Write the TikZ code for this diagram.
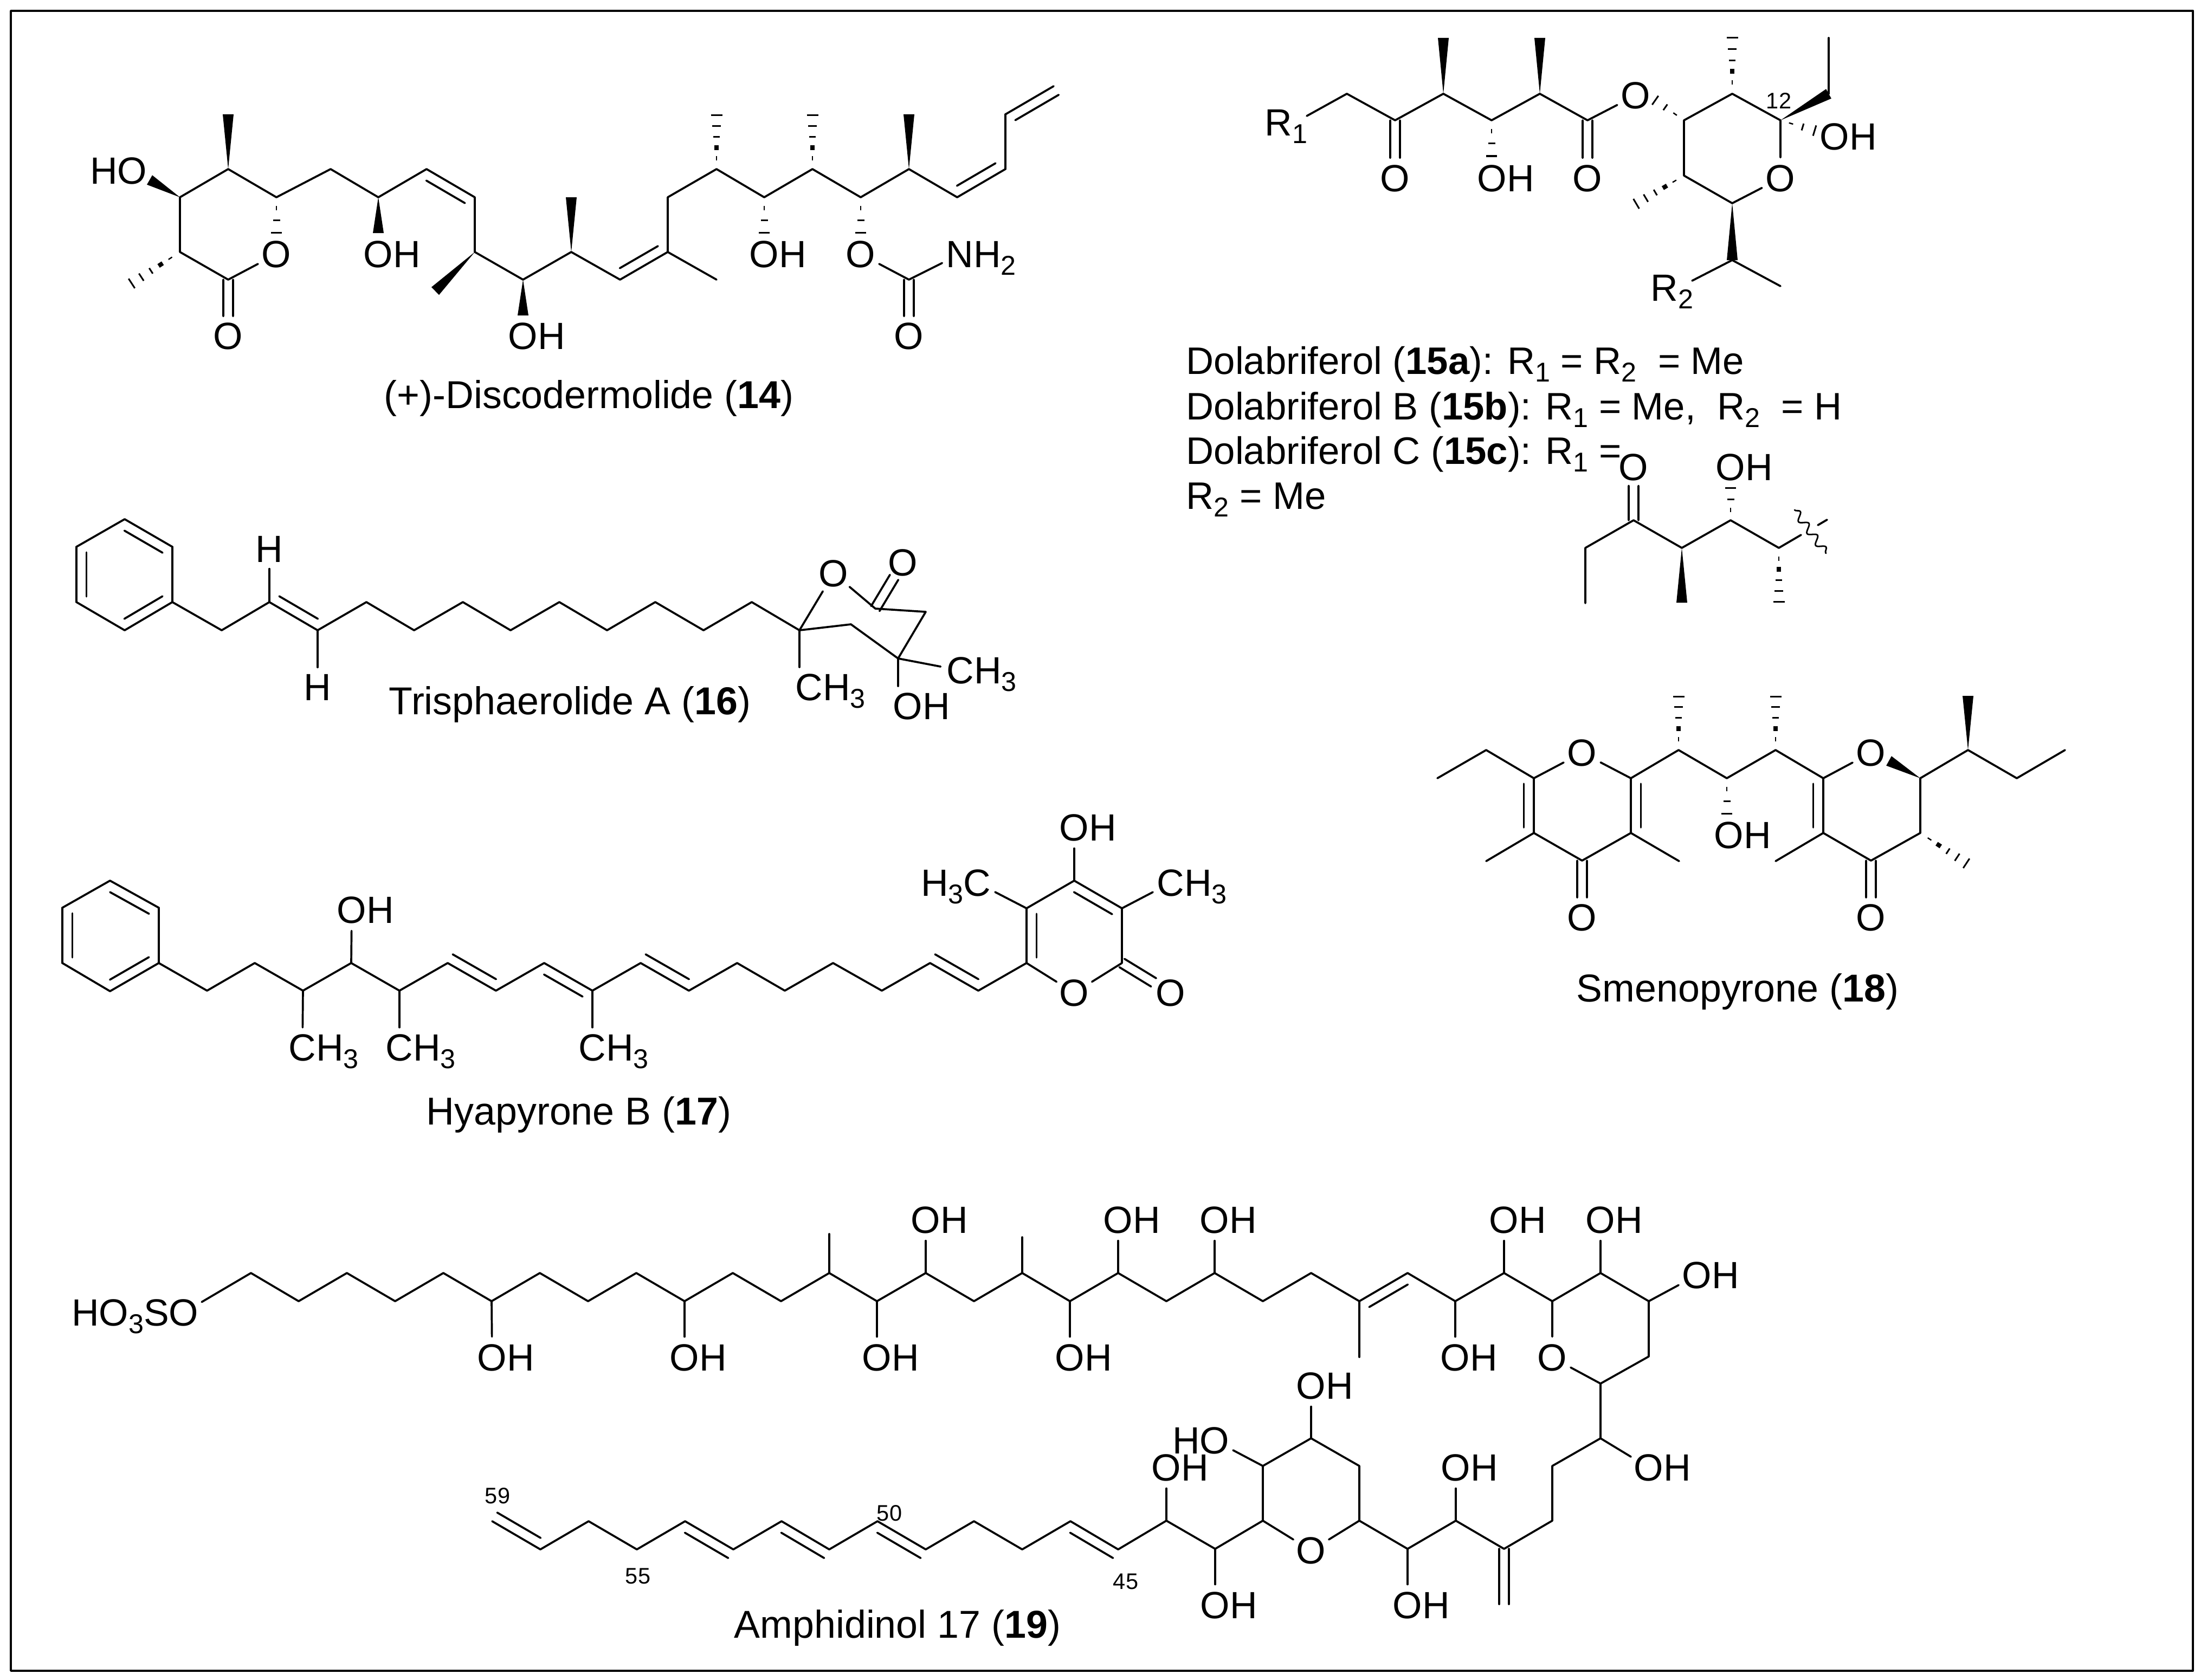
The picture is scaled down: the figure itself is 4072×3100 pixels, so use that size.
\documentclass[tikz,border=0pt]{standalone}
\usepackage{fontspec}
\setmainfont{Liberation Sans}
\usepackage{tikz}
\usetikzlibrary{calc,decorations.pathmorphing}
\newcommand{\chemfont}{\fontsize{19.9}{24}\selectfont}
\newcommand{\chemsub}[1]{\smash{\raisebox{-0.21em}{\fontsize{14.3}{15}\selectfont #1}}}
\tikzset{atom/.style={circle,inner sep=0pt,font=\chemfont}}
\tikzset{caption/.style={anchor=base west,inner sep=0pt,font=\fontsize{20.4}{24}\selectfont}}
\tikzset{rtext/.style={anchor=base west,inner sep=0pt,font=\fontsize{20.1}{24}\selectfont}}
\tikzset{numlabel/.style={inner sep=0pt,font=\fontsize{11.8}{14}\selectfont}}
\tikzset{wavy/.style={line width=0.8pt,decorate,decoration={snake,amplitude=.07cm,segment length=.27cm}}}
\newcommand{\wedgebond}[2]{\fill (#1) -- ($(#2)!.1cm!90:(#1)$) -- ($(#2)!.1cm!-90:(#1)$) -- cycle;}
\newcommand{\hashbond}[2]{\foreach \hpos/\hwid/\hthk in {.2/.012/.08,.4/.04/.09,.6/.06/.03,.8/.08/.03,1/.105/.03}{\draw[line width=\hthk cm,line cap=butt] ($(#1)!\hpos!(#2) + (#1)!\hwid cm!90:(#2) - (#1)$) -- ($(#1)!\hpos!(#2) + (#1)!\hwid cm!-90:(#2) - (#1)$);}}
\newcommand{\hashshort}[2]{\foreach \hpos/\hwid/\hthk in {.31/.0125/.08,.65/.065/.03,1/.1/.03}{\draw[line width=\hthk cm,line cap=butt] ($(#1)!\hpos!(#2) + (#1)!\hwid cm!90:(#2) - (#1)$) -- ($(#1)!\hpos!(#2) + (#1)!\hwid cm!-90:(#2) - (#1)$);}}
\newcommand{\innerbond}[5]{\draw ($(#1)!#4!(#2) + (#1)!.185cm!#3:(#2) - (#1)$) -- ($(#1)!#5!(#2) + (#1)!.185cm!#3:(#2) - (#1)$);}
\newcommand{\dblbond}[3]{\draw (#1) -- (#2); \innerbond{#1}{#2}{#3}{.1}{.9}}
\newcommand{\dblcenter}[3]{\draw ($(#1)!.09cm!90:(#2)$) -- ($(#1)!#3!(#2) + (#1)!.09cm!90:(#2) - (#1)$); \draw ($(#1)!.09cm!-90:(#2)$) -- ($(#1)!#3!(#2) + (#1)!.09cm!-90:(#2) - (#1)$);}

\begin{document}
\begin{tikzpicture}
[x=.01cm, y=-.01cm, line width=1.05pt, line cap=round, line join=round]
\useasboundingbox (0,0) rectangle (4072,3100);
\draw[line cap=butt] (20,20) rectangle (4046,3083);

% discodermolide
\coordinate (d1) at (332,364);
\coordinate (d2) at (421,312);
\coordinate (d3) at (510,364);
\coordinate (d4) at (610,312);
\coordinate (d5) at (698,364);
\coordinate (d6) at (787,312);
\coordinate (d7) at (876,364);
\coordinate (d8) at (876,465);
\coordinate (d9) at (965,516);
\coordinate (d10) at (1054,465);
\coordinate (d11) at (1144,516);
\coordinate (d12) at (1232,465);
\coordinate (d13) at (1232,364);
\coordinate (d14) at (1322,312);
\coordinate (d15) at (1410,364);
\coordinate (d16) at (1499,312);
\coordinate (d17) at (1588,364);
\coordinate (d18) at (1677,312);
\coordinate (d19) at (1766,364);
\coordinate (d20) at (1855,312);
\coordinate (d21) at (1855,211);
\coordinate (d22) at (1944,159);
\coordinate (d23) at (332,465);
\coordinate (d24) at (421,516);
\coordinate (d25) at (1322,516);
\coordinate (d26) at (1677,516);
\coordinate (dm1) at (421,211);
\coordinate (dm2) at (803,537);
\coordinate (dm3) at (1054,364);
\coordinate (dm4) at (1322,213);
\coordinate (dm5) at (1499,213);
\coordinate (dm6) at (1677,211);
\coordinate (dm7) at (243,523);
\coordinate (dw1) at (276,332);
\coordinate (dw2) at (698,430);
\coordinate (dw3) at (965,582);
\coordinate (dh1) at (510,429);
\coordinate (dh2) at (1410,429);
\coordinate (dh3) at (1588,429);
\node (dO1) at (244,315)[atom]{\llap{H}O};
\node (dO2) at (510,469)[atom]{O};
\node (dO3) at (421,620)[atom]{O};
\node (dO4) at (698,469)[atom]{O\rlap{H}};
\node (dO5) at (965,620)[atom]{O\rlap{H}};
\node (dO6) at (1410,469)[atom]{O\rlap{H}};
\node (dO7) at (1588,469)[atom]{O};
\node (dO8) at (1677,620)[atom]{O};
\node (dN) at (1771,469)[atom]{N\rlap{H\chemsub{2}}};
\node (dcap) at (707,753)[caption]{(+)-Discodermolide (\textbf{14})};
\draw (d1) -- (d2) -- (d3) -- (d4) -- (d5) -- (d6);
\dblbond{d6}{d7}{-90}
\draw (d7) -- (d8) -- (d9) -- (d10) -- (d11);
\dblbond{d11}{d12}{90}
\draw (d12) -- (d13) -- (d14) -- (d15) -- (d16) -- (d17) -- (d18) -- (d19);
\dblbond{d19}{d20}{90}
\draw (d20) -- (d21);
\draw (d21) -- (d22);
\innerbond{d21}{d22}{-90}{.1}{1}
\draw (d12) -- (d25);
\draw (d1) -- (d23) -- (d24) -- (dO2);
\dblcenter{d24}{dO3}{.65}
\draw (dO7) -- (d26) -- (dN);
\dblcenter{d26}{dO8}{.65}
\wedgebond{d2}{dm1}
\wedgebond{d1}{dw1}
\wedgebond{d5}{dw2}
\wedgebond{d8}{dm2}
\wedgebond{d9}{dw3}
\wedgebond{d10}{dm3}
\wedgebond{d18}{dm6}
\hashbond{d23}{dm7}
\hashbond{d14}{dm4}
\hashbond{d16}{dm5}
\hashshort{d3}{dh1}
\hashshort{d15}{dh2}
\hashshort{d17}{dh3}

% dolabriferol
\coordinate (f1) at (2485,173);
\coordinate (f2) at (2574,222);
\coordinate (f3) at (2663,173);
\coordinate (f4) at (2752,222);
\coordinate (f5) at (2841,173);
\coordinate (f6) at (2929,222);
\coordinate (f7) at (3107,222);
\coordinate (f8) at (3196,173);
\coordinate (f9) at (3285,222);
\coordinate (f10) at (3374,173);
\coordinate (f11) at (3374,70);
\coordinate (f12) at (3196,375);
\coordinate (f13) at (3107,324);
\coordinate (f14) at (3196,480);
\coordinate (f15) at (3285,528);
\coordinate (fm1) at (2663,70);
\coordinate (fm2) at (2841,70);
\coordinate (fm3) at (3196,70);
\coordinate (fm4) at (3019,376);
\coordinate (fh1) at (2752,288);
\coordinate (fh2) at (3054,185);
\coordinate (fh3) at (3348,241);
\coordinate (fr1) at (2411,214);
\coordinate (fr2) at (3122,518);
\node (fR1) at (2359,226)[atom]{R\rlap{\chemsub{1}}};
\node (fR2) at (3071,531)[atom]{R\rlap{\chemsub{2}}};
\node (fO1) at (2574,329)[atom]{O};
\node (fO2) at (2753,329)[atom]{O\rlap{H}};
\node (fO3) at (2929,329)[atom]{O};
\node (fO4) at (3018,176)[atom]{O};
\node (fO5) at (3285,329)[atom]{O};
\node (fO6) at (3385,252)[atom]{O\rlap{H}};
\node (f12text) at (3282,186)[numlabel]{12};
\draw (fr1) -- (f1) -- (f2) -- (f3) -- (f4) -- (f5) -- (f6) -- (fO4);
\dblcenter{f2}{fO1}{.65}
\dblcenter{f6}{fO3}{.65}
\draw (f9) -- (f8) -- (f7) -- (f13) -- (f12) -- (fO5) -- (f9);
\draw (f10) -- (f11);
\draw (fr2) -- (f14) -- (f15);
\wedgebond{f3}{fm1}
\wedgebond{f5}{fm2}
\wedgebond{f9}{f10}
\wedgebond{f12}{f14}
\hashbond{f8}{fm3}
\hashbond{f13}{fm4}
\hashshort{f4}{fh1}
\hashshort{f7}{fh2}
\hashshort{f9}{fh3}
\node (ftext1) at (2187,690)[rtext]{Dolabriferol (\textbf{15a}): R\chemsub{1} = R\chemsub{2}\ \ = Me};
\node (ftext2) at (2187,774)[rtext]{Dolabriferol B (\textbf{15b}): R\chemsub{1} = Me,\ \ R\chemsub{2}\ \ = H};
\node (ftext3) at (2187,856)[rtext]{Dolabriferol C (\textbf{15c}): R\chemsub{1} =};
\node (ftext4) at (2187,939)[rtext]{R\chemsub{2} = Me};

% side chain of 15c
\coordinate (g1) at (2925,1113);
\coordinate (g2) at (2925,1011);
\coordinate (g3) at (3014,960);
\coordinate (g4) at (3103,1011);
\coordinate (g5) at (3193,960);
\coordinate (g6) at (3282,1011);
\coordinate (g7) at (3323,987);
\coordinate (g8) at (3354,969);
\coordinate (g9) at (3371,959);
\coordinate (gm1) at (3103,1112);
\coordinate (gm2) at (3282,1110);
\coordinate (gh1) at (3193,900);
\coordinate (gw1) at (3311,941);
\coordinate (gw2) at (3369,1021);
\node (gO1) at (3014,862)[atom]{O};
\node (gO2) at (3193,862)[atom]{O\rlap{H}};
\draw (g1) -- (g2) -- (g3) -- (g4) -- (g5) -- (g6) -- (g7);
\draw (g8) -- (g9);
\dblcenter{g3}{gO1}{.65}
\wedgebond{g4}{gm1}
\hashbond{g6}{gm2}
\hashshort{g5}{gh1}
\draw[wavy] (gw1) -- (gw2);

% trisphaerolide
\coordinate (t1) at (230,958);
\coordinate (t2) at (318,1009);
\coordinate (t3) at (318,1111);
\coordinate (t4) at (230,1163);
\coordinate (t5) at (141,1111);
\coordinate (t6) at (141,1009);
\coordinate (t7) at (409,1163);
\coordinate (t8) at (497,1111);
\coordinate (t9) at (586,1163);
\coordinate (t10) at (676,1111);
\coordinate (t11) at (764,1163);
\coordinate (t12) at (854,1111);
\coordinate (t13) at (942,1163);
\coordinate (t14) at (1032,1111);
\coordinate (t15) at (1120,1163);
\coordinate (t16) at (1209,1111);
\coordinate (t17) at (1298,1163);
\coordinate (t18) at (1387,1111);
\coordinate (t19) at (1475,1163);
\coordinate (t20) at (1570,1152);
\coordinate (t21) at (1657,1215);
\coordinate (t22) at (1708,1129);
\coordinate (t23) at (1615,1123);
\coordinate (tb1) at (1475,1231);
\coordinate (tb2) at (1657,1266);
\node (tH1) at (497,1013)[atom]{H};
\node (tH2) at (586,1268)[atom]{H};
\node (tO1) at (1538,1058)[atom]{O};
\node (tO2) at (1666,1038)[atom]{O};
\node (tO3) at (1675,1303)[atom]{O\rlap{H}};
\node (tC1) at (1493,1268)[atom]{C\rlap{H\chemsub{3}}};
\node (tC2) at (1772,1237)[atom]{C\rlap{H\chemsub{3}}};
\node (tcap) at (716,1318)[caption]{Trisphaerolide A (\textbf{16})};
\dblbond{t1}{t2}{-90}
\draw (t2) -- (t3);
\dblbond{t3}{t4}{-90}
\draw (t4) -- (t5);
\dblbond{t5}{t6}{-90}
\draw (t6) -- (t1);
\draw (t3) -- (t7) -- (t8);
\dblbond{t8}{t9}{90}
\draw (t9) -- (t10) -- (t11) -- (t12) -- (t13) -- (t14) -- (t15) -- (t16) -- (t17) -- (t18) -- (t19);
\draw (t8) -- (tH1);
\draw (t9) -- (tH2);
\draw (t19) -- (tb1);
\draw (t19) -- (tO1);
\draw (t19) -- (t20) -- (t21) -- (t22) -- (t23) -- (tO1);
\dblcenter{t23}{tO2}{.68}
\draw (t21) -- (tb2);
\draw (t21) -- (tC2);

% hyapyrone
\coordinate (h1) at (203,1625);
\coordinate (h2) at (293,1675);
\coordinate (h3) at (293,1777);
\coordinate (h4) at (203,1829);
\coordinate (h5) at (115,1777);
\coordinate (h6) at (115,1675);
\coordinate (h7) at (382,1828);
\coordinate (h8) at (470,1777);
\coordinate (h9) at (559,1828);
\coordinate (h10) at (648,1777);
\coordinate (h11) at (737,1828);
\coordinate (h12) at (826,1777);
\coordinate (h13) at (915,1828);
\coordinate (h14) at (1004,1777);
\coordinate (h15) at (1093,1828);
\coordinate (h16) at (1182,1777);
\coordinate (h17) at (1271,1828);
\coordinate (h18) at (1360,1777);
\coordinate (h19) at (1448,1828);
\coordinate (h20) at (1537,1777);
\coordinate (h21) at (1627,1828);
\coordinate (h22) at (1716,1777);
\coordinate (h23) at (1805,1828);
\coordinate (h24) at (1894,1777);
\coordinate (h25) at (2070,1777);
\coordinate (h26) at (2070,1676);
\coordinate (h27) at (1982,1625);
\coordinate (h28) at (1894,1676);
\node (hO1) at (649,1679)[atom]{O\rlap{H}};
\node (hC1) at (558,1933)[atom]{C\rlap{H\chemsub{3}}};
\node (hC2) at (737,1933)[atom]{C\rlap{H\chemsub{3}}};
\node (hC3) at (1093,1933)[atom]{C\rlap{H\chemsub{3}}};
\node (hO2) at (1982,1832)[atom]{O};
\node (hO3) at (2160,1832)[atom]{O};
\node (hO4) at (1982,1527)[atom]{O\rlap{H}};
\node (hC4) at (1803,1629)[atom]{\llap{H\chemsub{3}}C};
\node (hC5) at (2160,1629)[atom]{C\rlap{H\chemsub{3}}};
\node (hcap) at (785,2075)[caption]{Hyapyrone B (\textbf{17})};
\dblbond{h1}{h2}{-90}
\draw (h2) -- (h3);
\dblbond{h3}{h4}{-90}
\draw (h4) -- (h5);
\dblbond{h5}{h6}{-90}
\draw (h6) -- (h1);
\draw (h3) -- (h7) -- (h8) -- (h9) -- (h10) -- (h11) -- (h12);
\draw (h12) -- (h13) -- (h14) -- (h15) -- (h16) -- (h17) -- (h18) -- (h19) -- (h20) -- (h21) -- (h22) -- (h23) -- (h24);
\innerbond{h12}{h13}{90}{0}{.9}
\innerbond{h14}{h15}{-90}{.1}{.9}
\innerbond{h16}{h17}{90}{0}{.9}
\innerbond{h22}{h23}{90}{0}{.9}
\draw (h10) -- (hO1);
\draw (h9) -- (hC1);
\draw (h11) -- (hC2);
\draw (h15) -- (hC3);
\dblbond{h24}{h28}{-90}
\draw (h28) -- (h27);
\dblbond{h27}{h26}{-90}
\draw (h26) -- (h25) -- (hO2) -- (h24);
\dblcenter{h25}{hO3}{.65}
\draw (h27) -- (hO4);
\draw (h28) -- (hC4);
\draw (h26) -- (hC5);

% smenopyrone
\coordinate (s1) at (2652,1436);
\coordinate (s2) at (2742,1384);
\coordinate (s3) at (2830,1436);
\coordinate (s4) at (2830,1537);
\coordinate (s5) at (2919,1588);
\coordinate (s6) at (3009,1537);
\coordinate (s7) at (3009,1436);
\coordinate (s8) at (2742,1589);
\coordinate (s9) at (3098,1589);
\coordinate (s10) at (3097,1384);
\coordinate (s11) at (3186,1436);
\coordinate (s12) at (3276,1384);
\coordinate (s13) at (3364,1436);
\coordinate (s14) at (3364,1537);
\coordinate (s15) at (3452,1588);
\coordinate (s16) at (3543,1537);
\coordinate (s17) at (3543,1436);
\coordinate (s18) at (3276,1589);
\coordinate (s19) at (3631,1384);
\coordinate (s20) at (3721,1436);
\coordinate (s21) at (3810,1384);
\coordinate (sm1) at (3097,1285);
\coordinate (sm2) at (3276,1285);
\coordinate (sm3) at (3631,1284);
\coordinate (sm4) at (3628,1593);
\coordinate (sh1) at (3186,1501);
\coordinate (sw1) at (3485,1404);
\node (sO1) at (2919,1389)[atom]{O};
\node (sO2) at (2919,1693)[atom]{O};
\node (sO3) at (3190,1541)[atom]{O\rlap{H}};
\node (sO4) at (3452,1389)[atom]{O};
\node (sO5) at (3452,1693)[atom]{O};
\node (scap) at (2907,1848)[caption]{Smenopyrone (\textbf{18})};
\draw (s1) -- (s2) -- (s3) -- (sO1) -- (s7) -- (s10) -- (s11) -- (s12) -- (s13) -- (sO4);
\dblbond{s3}{s4}{-90}
\draw (s4) -- (s5) -- (s6);
\dblbond{s7}{s6}{90}
\draw (s4) -- (s8);
\draw (s6) -- (s9);
\dblcenter{s5}{sO2}{.65}
\dblbond{s13}{s14}{-90}
\draw (s14) -- (s15) -- (s16) -- (s17) -- (s19) -- (s20) -- (s21);
\draw (s14) -- (s18);
\dblcenter{s15}{sO5}{.65}
\wedgebond{s17}{sw1}
\wedgebond{s19}{sm3}
\hashbond{s10}{sm1}
\hashbond{s12}{sm2}
\hashbond{s16}{sm4}
\hashshort{s11}{sh1}

% amphidinol
\coordinate (a1) at (463,2349);
\coordinate (a2) at (551,2401);
\coordinate (a3) at (640,2349);
\coordinate (a4) at (729,2401);
\coordinate (a5) at (818,2349);
\coordinate (a6) at (907,2401);
\coordinate (a7) at (996,2349);
\coordinate (a8) at (1085,2401);
\coordinate (a9) at (1174,2349);
\coordinate (a10) at (1263,2401);
\coordinate (a11) at (1352,2349);
\coordinate (a12) at (1441,2401);
\coordinate (a13) at (1530,2349);
\coordinate (a14) at (1618,2401);
\coordinate (a15) at (1708,2349);
\coordinate (a16) at (1797,2401);
\coordinate (a17) at (1886,2349);
\coordinate (a18) at (1974,2401);
\coordinate (a19) at (2063,2349);
\coordinate (a20) at (2152,2401);
\coordinate (a21) at (2241,2349);
\coordinate (a22) at (2330,2401);
\coordinate (a23) at (2419,2349);
\coordinate (a24) at (2508,2401);
\coordinate (a25) at (2597,2349);
\coordinate (a26) at (2685,2401);
\coordinate (a27) at (2775,2349);
\coordinate (a28) at (2864,2401);
\coordinate (a29) at (2953,2349);
\coordinate (a30) at (3042,2401);
\coordinate (a31) at (3042,2503);
\coordinate (a32) at (2953,2553);
\coordinate (a33) at (2953,2654);
\coordinate (a34) at (2864,2705);
\coordinate (a35) at (2864,2806);
\coordinate (a36) at (2775,2858);
\coordinate (a37) at (2775,2960);
\coordinate (a38) at (2686,2806);
\coordinate (a39) at (2597,2858);
\coordinate (a40) at (2508,2806);
\coordinate (a41) at (2508,2705);
\coordinate (a42) at (2419,2654);
\coordinate (a43) at (2330,2705);
\coordinate (a44) at (2330,2806);
\coordinate (a45) at (2242,2858);
\coordinate (a46) at (2152,2806);
\coordinate (a47) at (2063,2859);
\coordinate (a48) at (1975,2807);
\coordinate (a49) at (1886,2859);
\coordinate (a50) at (1797,2807);
\coordinate (a51) at (1708,2859);
\coordinate (a52) at (1619,2807);
\coordinate (a53) at (1530,2859);
\coordinate (a54) at (1442,2807);
\coordinate (a55) at (1353,2859);
\coordinate (a56) at (1264,2807);
\coordinate (a57) at (1175,2859);
\coordinate (a58) at (1086,2807);
\coordinate (a59) at (997,2859);
\coordinate (a60) at (908,2807);
\coordinate (am1) at (1530,2277);
\coordinate (am2) at (1886,2283);
\coordinate (am3) at (2508,2504);
\node (aS) at (339,2422)[atom]{\llap{HO\chemsub{3}S}O};
\node (aO1) at (908,2505)[atom]{O\rlap{H}};
\node (aO2) at (1263,2505)[atom]{O\rlap{H}};
\node (aO3) at (1618,2505)[atom]{O\rlap{H}};
\node (aO4) at (1974,2505)[atom]{O\rlap{H}};
\node (aO5) at (2685,2505)[atom]{O\rlap{H}};
\node (aO6) at (2864,2505)[atom]{O};
\node (aO7) at (1708,2251)[atom]{O\rlap{H}};
\node (aO8) at (2063,2251)[atom]{O\rlap{H}};
\node (aO9) at (2241,2251)[atom]{O\rlap{H}};
\node (aO10) at (2775,2251)[atom]{O\rlap{H}};
\node (aO11) at (2953,2251)[atom]{O\rlap{H}};
\node (aO12) at (3131,2353)[atom]{O\rlap{H}};
\node (aO13) at (3042,2708)[atom]{O\rlap{H}};
\node (aO14) at (2686,2708)[atom]{O\rlap{H}};
\node (aO15) at (2597,2962)[atom]{O\rlap{H}};
\node (aO16) at (2419,2861)[atom]{O};
\node (aO17) at (2241,2658)[atom]{\llap{H}O};
\node (aO18) at (2419,2557)[atom]{O\rlap{H}};
\node (aO19) at (2242,2962)[atom]{O\rlap{H}};
\node (aO20) at (2152,2708)[atom]{O\rlap{H}};
\node (a59text) at (918,2760)[numlabel]{59};
\node (a55text) at (1177,2908)[numlabel]{55};
\node (a50text) at (1641,2792)[numlabel]{50};
\node (a45text) at (2077,2918)[numlabel]{45};
\node (acap) at (1353,3022)[caption]{Amphidinol 17 (\textbf{19})};
\draw (aS) -- (a1) -- (a2) -- (a3) -- (a4) -- (a5) -- (a6) -- (a7) -- (a8) -- (a9) -- (a10) -- (a11) -- (a12) -- (a13) -- (a14) -- (a15) -- (a16) -- (a17) -- (a18) -- (a19) -- (a20) -- (a21) -- (a22) -- (a23) -- (a24);
\dblbond{a24}{a25}{-90}
\draw (a25) -- (a26) -- (a27) -- (a28) -- (a29) -- (a30) -- (a31) -- (a32) -- (aO6) -- (a28);
\draw (a6) -- (aO1);
\draw (a10) -- (aO2);
\draw (a14) -- (aO3);
\draw (a18) -- (aO4);
\draw (a26) -- (aO5);
\draw (a15) -- (aO7);
\draw (a19) -- (aO8);
\draw (a21) -- (aO9);
\draw (a27) -- (aO10);
\draw (a29) -- (aO11);
\draw (a30) -- (aO12);
\draw (a13) -- (am1);
\draw (a17) -- (am2);
\draw (a24) -- (am3);
\draw (a32) -- (a33) -- (a34) -- (a35) -- (a36) -- (a38) -- (a39) -- (a40) -- (a41) -- (a42) -- (a43) -- (a44) -- (a45) -- (a46) -- (a47);
\draw (a40) -- (aO16) -- (a44);
\draw (a33) -- (aO13);
\draw (a38) -- (aO14);
\draw (a39) -- (aO15);
\draw (a43) -- (aO17);
\draw (a42) -- (aO18);
\draw (a45) -- (aO19);
\draw (a46) -- (aO20);
\dblcenter{a36}{a37}{1}
\draw (a47) -- (a48) -- (a49) -- (a50) -- (a51) -- (a52) -- (a53) -- (a54) -- (a55) -- (a56) -- (a57) -- (a58) -- (a59) -- (a60);
\innerbond{a48}{a47}{-90}{.1}{1}
\innerbond{a52}{a51}{-90}{.1}{1}
\innerbond{a54}{a53}{-90}{.1}{1}
\innerbond{a56}{a55}{-90}{.1}{1}
\innerbond{a60}{a59}{90}{0}{.9}
\end{tikzpicture}
\end{document}
